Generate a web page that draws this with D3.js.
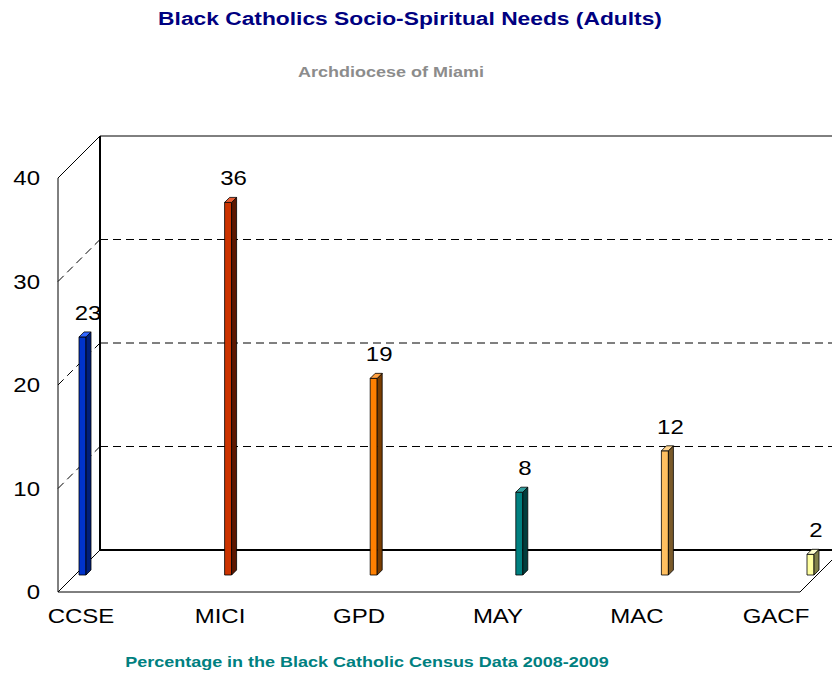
<!DOCTYPE html>
<html>
<head>
<meta charset="utf-8">
<script src="https://cdn.jsdelivr.net/npm/d3@7"></script>
<style>
  body { margin: 0; background: #fff; }
  text { font-family: "Liberation Sans", Arial, sans-serif; }
</style>
</head>
<body>
<div id="chart"></div>
<script>
// data
const categories = ["CCSE", "MICI", "GPD", "MAY", "MAC", "GACF"];
const values = [23, 36, 19, 8, 12, 2];
const yTicks = [0, 10, 20, 30, 40];
const frontColors = ["#0033cc", "#cc3300", "#ff8000", "#008080", "#ffbf60", "#ffffa0"];
const sideColors = ["#001f7a", "#5c1600", "#7a3d00", "#003d3d", "#7a5a2a", "#80804a"];
const topColors = ["#3366ff", "#e65c33", "#ffa040", "#33a0a0", "#ffd590", "#ffffd0"];

// layout
const width = 832, height = 673;
const depth = 42;          // wall depth offset (x right, y up)
const barShift = {x: 21, y: 17}; // bars sit mid-depth
const barW = 7, barD = 5;
const sx = 1.2;            // text in the original is stretched sideways

const svg = d3.select("#chart").append("svg")
  .attr("width", width)
  .attr("height", height);

// position text with a horizontal stretch
const at = (x, y) => `translate(${x},${y}) scale(${sx},1)`;

// y on the front plane
const y = d3.scaleLinear().domain([0, 40]).range([592, 178]);
const xFront = {left: 58, right: 800};

// bars (front-face left edge) and category labels
const xBar = d3.scalePoint().domain(categories).range([79, 807]);
const xLabel = d3.scalePoint().domain(categories).range([81, 776]);

// titles
svg.append("text")
  .attr("transform", at(410, 25))
  .attr("text-anchor", "middle")
  .attr("font-size", 19).attr("font-weight", "bold")
  .attr("fill", "#000080")
  .text("Black Catholics Socio-Spiritual Needs (Adults)");

svg.append("text")
  .attr("transform", at(391, 77))
  .attr("text-anchor", "middle")
  .attr("font-size", 15).attr("font-weight", "bold")
  .attr("fill", "#8c8c8c")
  .text("Archdiocese of Miami");

svg.append("text")
  .attr("transform", at(367, 667))
  .attr("text-anchor", "middle")
  .attr("font-size", 15).attr("font-weight", "bold")
  .attr("fill", "#008080")
  .text("Percentage in the Black Catholic Census Data 2008-2009");

// walls
const walls = svg.append("g").attr("fill", "none").attr("stroke", "#000");
const bx = xFront.left + depth;

// gridlines on back wall and left wall
yTicks.filter(t => t > 0 && t < 40).forEach(t => {
  walls.append("line")
    .attr("x1", bx).attr("x2", width)
    .attr("y1", y(t) - depth).attr("y2", y(t) - depth)
    .attr("stroke-dasharray", "8,5");
  walls.append("line")
    .attr("x1", xFront.left).attr("y1", y(t))
    .attr("x2", bx).attr("y2", y(t) - depth)
    .attr("stroke-dasharray", "8,5");
});

// back wall top and left edge
walls.append("line")
  .attr("x1", bx).attr("x2", width)
  .attr("y1", y(40) - depth).attr("y2", y(40) - depth);
walls.append("line")
  .attr("x1", bx).attr("x2", bx)
  .attr("y1", y(40) - depth).attr("y2", y(0) - depth)
  .attr("stroke-width", 2);

// left wall
walls.append("line")
  .attr("x1", xFront.left).attr("x2", xFront.left)
  .attr("y1", y(40)).attr("y2", y(0));
walls.append("line")
  .attr("x1", xFront.left).attr("y1", y(40))
  .attr("x2", bx).attr("y2", y(40) - depth);

// floor
walls.append("line")
  .attr("x1", bx).attr("x2", width)
  .attr("y1", y(0) - depth).attr("y2", y(0) - depth)
  .attr("stroke-width", 2);
walls.append("path")
  .attr("d", `M${bx},${y(0) - depth}L${xFront.left},${y(0)}L${xFront.right},${y(0)}L${xFront.right + depth},${y(0) - depth}`);

// y tick labels
svg.append("g").selectAll("text")
  .data(yTicks)
  .join("text")
    .attr("transform", d => at(40, y(d)))
    .attr("dy", "0.35em")
    .attr("text-anchor", "end")
    .attr("font-size", 20)
    .text(d => d);

// category labels
svg.append("g").selectAll("text")
  .data(categories)
  .join("text")
    .attr("transform", d => at(xLabel(d), 623))
    .attr("text-anchor", "middle")
    .attr("font-size", 20)
    .text(d => d);

// bars
const base = y(0) - barShift.y;
const barTop = v => y(v) - barShift.y;

const bars = svg.append("g").selectAll("g")
  .data(categories)
  .join("g")
    .attr("stroke", "#000")
    .attr("stroke-width", 0.8)
    .attr("stroke-linejoin", "round");

bars.append("rect")
  .attr("x", d => xBar(d))
  .attr("y", (d, i) => barTop(values[i]))
  .attr("width", barW)
  .attr("height", (d, i) => base - barTop(values[i]))
  .attr("fill", (d, i) => frontColors[i]);

bars.append("path")
  .attr("fill", (d, i) => sideColors[i])
  .attr("d", (d, i) => {
    const x0 = xBar(d) + barW, t = barTop(values[i]);
    return `M${x0},${t}L${x0 + barD},${t - barD}L${x0 + barD},${base - barD}L${x0},${base}Z`;
  });

bars.append("path")
  .attr("fill", (d, i) => topColors[i])
  .attr("d", (d, i) => {
    const x0 = xBar(d), t = barTop(values[i]);
    return `M${x0},${t}L${x0 + barW},${t}L${x0 + barW + barD},${t - barD}L${x0 + barD},${t - barD}Z`;
  });

// value labels
svg.append("g").selectAll("text")
  .data(categories)
  .join("text")
    .attr("transform", (d, i) => at(xBar(d) + 9, barTop(values[i]) - 17))
    .attr("text-anchor", "middle")
    .attr("font-size", 20)
    .text((d, i) => values[i]);
</script>
</body>
</html>
